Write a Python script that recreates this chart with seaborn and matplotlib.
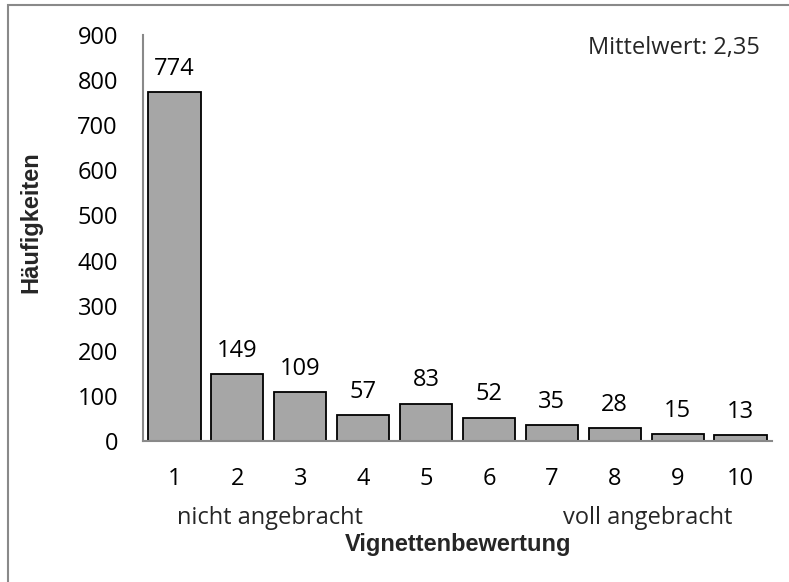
import matplotlib
matplotlib.use("Agg")
import matplotlib.pyplot as plt
import seaborn as sns
import pandas as pd
from matplotlib.patches import Rectangle

# data
ratings = ["1", "2", "3", "4", "5", "6", "7", "8", "9", "10"]
counts = [774, 149, 109, 57, 83, 52, 35, 28, 15, 13]
yticks = [0, 100, 200, 300, 400, 500, 600, 700, 800, 900]
mean_text = "Mittelwert: 2,35"

df = pd.DataFrame({"rating": ratings, "count": counts})

sns.set_theme(style="white")
plt.rcParams["font.family"] = ["Open Sans", "DejaVu Sans"]

fig = plt.figure(figsize=(7.89, 5.82), dpi=100)
ax = fig.add_axes([143 / 789, 1 - 441 / 582, 629 / 789, 406 / 582])

sns.barplot(data=df, x="rating", y="count", color="#A6A6A6", saturation=1,
            edgecolor="black", linewidth=1.3, width=0.83, ax=ax)
ax.bar_label(ax.containers[0], padding=8, fontsize=17, color="black")

ax.set_ylim(0, 900)
ax.set_xlim(-0.5, 9.5)
ax.set_yticks(yticks)
ax.tick_params(axis="both", length=0, labelsize=17, colors="black")
ax.tick_params(axis="x", pad=19)
ax.tick_params(axis="y", pad=18)
for s in ["top", "right"]:
    ax.spines[s].set_visible(False)
for s in ["left", "bottom"]:
    ax.spines[s].set_color("#898989")
    ax.spines[s].set_linewidth(1.5)

ax.set_xlabel("")
ax.set_ylabel("")
fig.text(31 / 789, 1 - 222 / 582, "Häufigkeiten", rotation=90, ha="center", va="center",
         fontsize=17, fontweight="bold", family="Liberation Sans")
fig.text(458 / 789, 1 - 545 / 582, "Vignettenbewertung", ha="center", va="center",
         fontsize=17, fontweight="bold", family="Liberation Sans")
fig.text(270 / 789, 1 - 518 / 582, "nicht angebracht", ha="center", va="center", fontsize=17)
fig.text(648 / 789, 1 - 518 / 582, "voll angebracht", ha="center", va="center", fontsize=17)
fig.text(760 / 789, 1 - 48 / 582, mean_text, ha="right", va="center", fontsize=17)

# outer chart border
fig.patches.append(Rectangle((8 / 789, -0.1), 1.2, 1 - 5 / 582 + 0.1, transform=fig.transFigure,
                             fill=False, edgecolor="#898989", linewidth=1.5))

fig.savefig("out.png", dpi=100)
